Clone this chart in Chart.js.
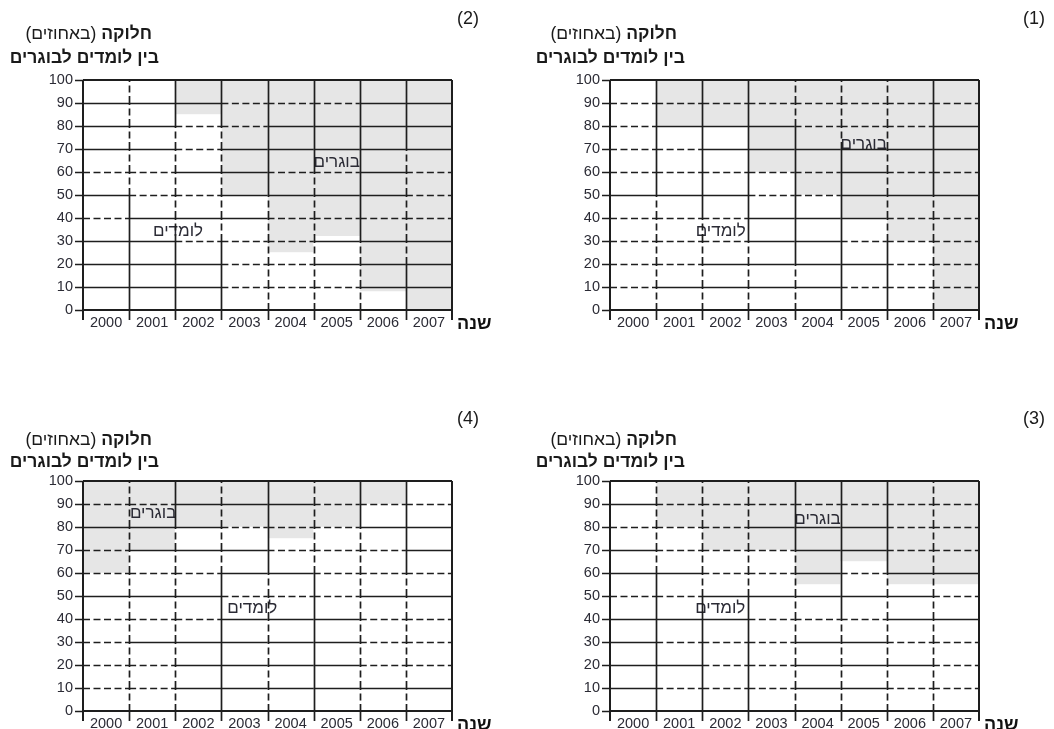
<!DOCTYPE html>
<html><head><meta charset="utf-8">
<script src="https://cdn.jsdelivr.net/npm/chart.js@4.4.0/dist/chart.umd.min.js"></script>
<style>
html,body{margin:0;padding:0;background:#fff;width:1054px;height:729px;overflow:hidden;position:relative;}
.q{position:absolute;width:527px;height:364px;}
.t{position:absolute;font-family:"Liberation Sans","DejaVu Sans",sans-serif;color:#1a1a1a;white-space:nowrap;direction:rtl;font-size:17.5px;line-height:20px;}
.n{position:absolute;font-family:"Liberation Sans","DejaVu Sans",sans-serif;color:#1a1a1a;font-size:18px;line-height:20px;}
</style></head><body>
<div class="q" style="left:527px;top:0"><canvas id="c1"></canvas></div>
<div class="q" style="left:0;top:0"><canvas id="c2"></canvas></div>
<div class="q" style="left:527px;top:401px"><canvas id="c3"></canvas></div>
<div class="q" style="left:0;top:401px"><canvas id="c4"></canvas></div>

<div class="n" style="left:1023px;top:8px">(1)</div>
<div class="n" style="left:457px;top:8px">(2)</div>
<div class="n" style="left:1023px;top:408px">(3)</div>
<div class="n" style="left:457px;top:408px">(4)</div>

<div class="t" style="right:377px;top:23px"><b>חלוקה</b> (באחוזים)</div>
<div class="t" style="right:369px;top:47px"><b>בין לומדים לבוגרים</b></div>
<div class="t" style="right:902px;top:23px"><b>חלוקה</b> (באחוזים)</div>
<div class="t" style="right:895px;top:47px"><b>בין לומדים לבוגרים</b></div>
<div class="t" style="right:377px;top:429px"><b>חלוקה</b> (באחוזים)</div>
<div class="t" style="right:369px;top:451px"><b>בין לומדים לבוגרים</b></div>
<div class="t" style="right:902px;top:429px"><b>חלוקה</b> (באחוזים)</div>
<div class="t" style="right:895px;top:451px"><b>בין לומדים לבוגרים</b></div>

<script>
// ---- data ----
const years = ['2000','2001','2002','2003','2004','2005','2006','2007'];
const studentsLabel = 'לומדים';
const graduatesLabel = 'בוגרים';
const xAxisLabel = 'שנה';

const students1 = [100, 80, 80, 60, 50, 40, 30, 0];
const graduates1 = [0, 20, 20, 40, 50, 60, 70, 100];
const students2 = [100, 100, 85, 50, 25, 32, 8, 0];
const graduates2 = [0, 0, 15, 50, 75, 68, 92, 100];
const students3 = [100, 80, 70, 70, 55, 65, 55, 55];
const graduates3 = [0, 20, 30, 30, 45, 35, 45, 45];
const students4 = [60, 70, 80, 80, 75, 80, 90, 100];
const graduates4 = [40, 30, 20, 20, 25, 20, 10, 0];

// ---- styles: per-cell solid (s) / dashed (d) gridline segments ----
const gridStyles = {
  c1: {h:["dssssddd","ddssssdd","dddssddd","dddsssdd","sssddsss","dddddsdd","ddssssss","dsssddds","dddddddd"],
       v:["dddddsssss","ddddssssss","dddsssssss","ddssssssdd","sssssssddd","sssddddddd","dddddsssss"]},
  c2: {h:["sssdddss","sssddsss","ssdddsss","dsssdddd","sddssssd","ddssddsd","ssdsssss","ssddssss","sssdddss"],
       v:["sssssddddd","sssdddddss","sssdddddss","dddddsssss","ddddddssss","dddsssssss","ssdddddsss"]},
  c3: {h:["sdddssdd","ssddsssd","sdddssdd","sssdddss","ddsssssd","ssddsdss","sdddssdd","dddsssdd","sddddddd"],
       v:["ssssssdddd","sssssddddd","sssssddddd","dddddddsss","ddddssssss","ddddddssss","dddddddddd"]},
  c4: {h:["ddssssss","ddssssdd","dsssssdd","dddsssdd","sssdddss","dddssddd","dsssddds","sssdddss","ddsssddd"],
       v:["dddddddddd","ddddddddss","ssssssdddd","ddddddssss","ssssssdddd","ddddddddss","ddddddssss"]}
};
const labelSpots = {
  c1: {g:[5, 72], s:[1.9, 34]},
  c2: {g:[5, 64], s:[1.56, 34]},
  c3: {g:[4, 83.5], s:[1.89, 44.5]},
  c4: {g:[1.02, 86], s:[3.17, 44.5]}
};

const LINE = '#1e1e1e';
const TEXT = '#2b2b35';
const FONT = '"Liberation Sans","DejaVu Sans",sans-serif';

const cellGrid = {
  id: 'cellGrid',
  afterDatasetsDraw(chart, args, opts) {
    const {ctx, chartArea: a, scales: {x, y}} = chart;
    const st = gridStyles[chart.canvas.id];
    const sp = labelSpots[chart.canvas.id];
    const n = years.length;
    const cw = (a.right - a.left) / n;
    ctx.save();
    // inside labels
    ctx.fillStyle = TEXT;
    ctx.font = '17px ' + FONT;
    ctx.textAlign = 'center';
    ctx.textBaseline = 'middle';
    ctx.fillText(graduatesLabel, x.getPixelForValue(sp.g[0]), y.getPixelForValue(sp.g[1]));
    ctx.fillText(studentsLabel, x.getPixelForValue(sp.s[0]), y.getPixelForValue(sp.s[1]));

    ctx.strokeStyle = LINE;
    ctx.lineWidth = 1.7;
    const seg = (x1, y1, x2, y2, dashed) => {
      ctx.setLineDash(dashed ? [7, 3.5] : []);
      ctx.beginPath(); ctx.moveTo(x1, y1); ctx.lineTo(x2, y2); ctx.stroke();
    };
    st.h.forEach((row, k) => {
      const py = Math.round(y.getPixelForValue((k + 1) * 10)) + 0.5;
      for (let c = 0; c < n; c++) seg(a.left + c * cw, py, a.left + (c + 1) * cw, py, row[c] === 'd');
    });
    st.v.forEach((col, k) => {
      const px = Math.round(a.left + (k + 1) * cw) + 0.5;
      for (let r = 0; r < 10; r++) seg(px, y.getPixelForValue(r * 10), px, y.getPixelForValue(r * 10 + 10), col[r] === 'd');
    });
    ctx.setLineDash([]);
    ctx.lineWidth = 2;
    // frame
    ctx.beginPath();
    ctx.moveTo(a.left, a.top); ctx.lineTo(a.right, a.top);
    ctx.moveTo(a.left, a.bottom); ctx.lineTo(a.right, a.bottom);
    ctx.moveTo(a.left, a.top); ctx.lineTo(a.left, a.bottom + 10);
    ctx.moveTo(a.right, a.top); ctx.lineTo(a.right, a.bottom + 10);
    ctx.stroke();
    // tick marks
    ctx.lineWidth = 1.7;
    ctx.beginPath();
    for (let v = 0; v <= 100; v += 10) {
      const py = Math.round(y.getPixelForValue(v)) + 0.5;
      ctx.moveTo(a.left - 8, py); ctx.lineTo(a.left, py);
    }
    for (let k = 1; k < n; k++) {
      const px = Math.round(a.left + k * cw) + 0.5;
      ctx.moveTo(px, a.bottom); ctx.lineTo(px, a.bottom + 10);
    }
    ctx.stroke();
    // axis name
    ctx.font = 'bold 18px ' + FONT;
    ctx.fillStyle = '#111';
    ctx.textAlign = 'left';
    ctx.fillText(xAxisLabel, a.right + 5, a.bottom + 14);
    ctx.restore();
  }
};

function makeChart(id, students, graduates) {
  new Chart(document.getElementById(id), {
    type: 'bar',
    data: {
      labels: years,
      datasets: [
        {label: studentsLabel, data: students, backgroundColor: '#ffffff', borderWidth: 0},
        {label: graduatesLabel, data: graduates, backgroundColor: '#e6e6e6', borderWidth: 0}
      ]
    },
    options: {
      responsive: false,
      animation: false,
      events: [],
      barPercentage: 1,
      categoryPercentage: 1,
      layout: {padding: {left: 0, top: 80, right: 75, bottom: 0}},
      plugins: {legend: {display: false}, tooltip: {enabled: false}},
      scales: {
        x: {
          stacked: true,
          offset: true,
          grid: {display: false, drawTicks: false},
          border: {display: false},
          ticks: {font: {size: 14.5, family: FONT}, color: TEXT, padding: 4, maxRotation: 0},
          afterFit: s => { s.height = 54; }
        },
        y: {
          stacked: true,
          min: 0, max: 100,
          grid: {display: false, drawTicks: false},
          border: {display: false},
          ticks: {stepSize: 10, font: {size: 14.5, family: FONT}, color: TEXT, padding: 10},
          afterFit: s => { s.width = 83; }
        }
      }
    },
    plugins: [cellGrid]
  });
}

['c1','c2','c3','c4'].forEach(id => {
  const c = document.getElementById(id);
  c.width = 527; c.height = 364;
  c.style.width = '527px'; c.style.height = '364px';
});
makeChart('c1', students1, graduates1);
makeChart('c2', students2, graduates2);
makeChart('c3', students3, graduates3);
makeChart('c4', students4, graduates4);
</script>
</body></html>
